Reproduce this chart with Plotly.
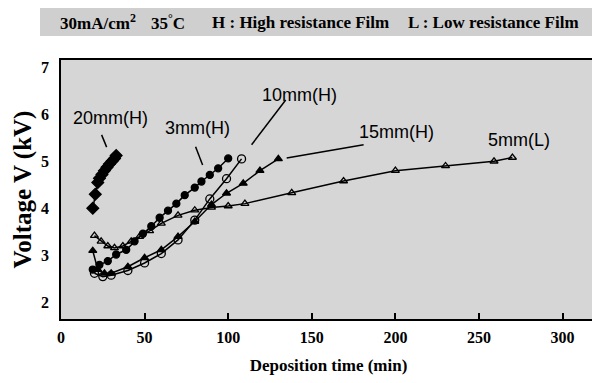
import plotly.graph_objects as go

# ---- data ----
t20 = [19, 20.5, 22, 23, 24.5, 26, 27.5, 29, 30.5, 32, 33]
v20 = [4.0, 4.3, 4.55, 4.64, 4.72, 4.8, 4.87, 4.94, 5.0, 5.06, 5.12]

t3 = [19, 23, 28, 33, 39, 44, 49, 54, 59, 64, 69, 74, 80, 84, 89, 94, 100]
v3 = [2.7, 2.8, 2.88, 3.02, 3.12, 3.3, 3.46, 3.62, 3.8, 3.95, 4.1, 4.28, 4.44, 4.57, 4.71, 4.85, 5.06]

t10 = [20, 25, 30, 40, 50, 60, 70, 80, 89, 99, 108]
v10 = [2.62, 2.55, 2.58, 2.68, 2.84, 3.04, 3.33, 3.75, 4.2, 4.63, 5.05]

t15 = [19, 22, 26, 30, 40, 50, 60, 70, 80, 90, 99, 109, 119, 130]
v15 = [3.1, 2.7, 2.62, 2.62, 2.76, 2.95, 3.12, 3.4, 3.72, 4.08, 4.32, 4.53, 4.8, 5.05]

t5 = [20, 24, 28, 32, 37, 42, 47, 53, 60, 70, 80, 90, 100, 110, 138, 169, 200, 230, 259, 270]
v5 = [3.42, 3.3, 3.2, 3.16, 3.2, 3.3, 3.4, 3.52, 3.68, 3.85, 3.96, 4.02, 4.05, 4.1, 4.33, 4.58, 4.8, 4.9, 5.0, 5.08]

x_ticks = [0, 50, 100, 150, 200, 250, 300]
y_ticks = [2, 3, 4, 5, 6, 7]

SERIF = "Liberation Serif"
SANS = "Liberation Sans"

# the page body adds an 8px offset; size the figure so the plot lands where the reference has it
OFF = 8
W, H = 600 - OFF, 383 - OFF
L, R, T, B = 61 - OFF, 4, 60 - OFF, 64
PW, PH = W - L - R, H - T - B

def px2paper_x(px):
    return (px - OFF - L) / PW

def px2paper_y(py):
    return (H - B - (py - OFF)) / PH

fig = go.Figure()

def add(t, v, sym, size, name):
    fig.add_trace(go.Scatter(
        x=t, y=v, mode="lines+markers", name=name,
        line=dict(color="black", width=1.5),
        marker=dict(symbol=sym, size=size, color="black",
                    line=dict(color="black", width=1.3)),
        showlegend=False))

add(t5, v5, "triangle-up-open", 7, "5mm(L)")
add(t15, v15, "triangle-up", 7, "15mm(H)")
add(t10, v10, "circle-open", 8, "10mm(H)")
add(t3, v3, "circle", 7, "3mm(H)")
add(t20, v20, "diamond", 9, "20mm(H)")

# series labels
labels = [
    ("20mm(H)", 29.5, 5.92),
    ("3mm(H)", 81.5, 5.71),
    ("10mm(H)", 142.5, 6.41),
    ("15mm(H)", 200.5, 5.63),
    ("5mm(L)", 274, 5.45),
]
for txt, lx, ly in labels:
    fig.add_annotation(x=lx, y=ly, text=txt, showarrow=False,
                       font=dict(family=SANS, size=18, color="black"))

# leader lines
leaders = [
    (24.3, 5.56, 27.3, 5.3),
    (80.5, 5.31, 84.7, 4.92),
    (134.4, 6.3, 114.0, 5.35),
    (181.0, 5.35, 135.0, 5.07),
]
for x0, y0, x1, y1 in leaders:
    fig.add_shape(type="line", xref="x", yref="y", x0=x0, y0=y0, x1=x1, y1=y1,
                  line=dict(color="black", width=1.5))

# header box
fig.add_shape(type="rect", xref="paper", yref="paper",
              x0=px2paper_x(40), x1=px2paper_x(598),
              y0=px2paper_y(36), y1=px2paper_y(8),
              fillcolor="#cfcfcf", line=dict(width=0), layer="below")
header = [
    ("30mA/cm<sup>2</sup>", 98),
    ("35<sup>°</sup>C", 168),
    ("H : High resistance Film", 300),
    ("L : Low resistance Film", 493),
]
for txt, px in header:
    fig.add_annotation(xref="paper", yref="paper", x=px2paper_x(px), y=px2paper_y(22),
                       text=txt, showarrow=False, xanchor="center", yanchor="middle",
                       font=dict(family=SERIF, size=17, color="black", weight="bold"))

fig.update_layout(
    width=W, height=H,
    margin=dict(l=L, r=R, t=T, b=B, autoexpand=False),
    paper_bgcolor="white",
    plot_bgcolor="#d6d6d6",
    font=dict(family=SERIF, color="black"),
)
fig.update_xaxes(
    range=[0, 320], tickvals=x_ticks, ticks="inside", ticklen=6, tickwidth=1.5,
    tickcolor="black", showgrid=False, zeroline=False, automargin=False,
    showline=True, linecolor="black", linewidth=1.5, mirror=True,
    ticklabelstandoff=3,
    tickfont=dict(family=SERIF, size=16, weight="bold"),
    title=dict(text="Deposition time (min)", standoff=14,
               font=dict(family=SERIF, size=17, weight="bold")),
)
fig.update_yaxes(
    range=[1.65, 7.15], tickvals=y_ticks, ticks="", showgrid=False, zeroline=False,
    automargin=False,
    showline=True, linecolor="black", linewidth=1.5, mirror=True,
    ticklabelstandoff=7,
    tickfont=dict(family=SERIF, size=16, weight="bold"),
    title=dict(text="Voltage V (kV)", standoff=2,
               font=dict(family=SERIF, size=25, weight="bold")),
)

fig.write_html("out.html")
